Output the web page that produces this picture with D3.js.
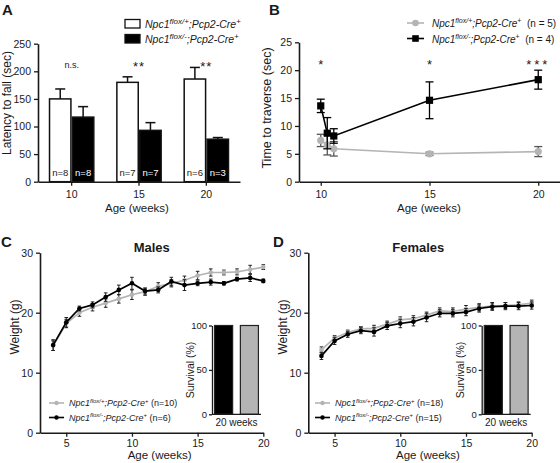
<!DOCTYPE html>
<html><head><meta charset="utf-8">
<script src="https://cdn.jsdelivr.net/npm/d3@7"></script>
<style>body{margin:0;background:#fff}svg{display:block}</style>
</head><body>
<script>
// ---------- DATA ----------
const ageA = [10, 15, 20];
const latencyCtrl = [150, 180, 186];
const latencyCtrlErr = [18, 10, 21];
const latencyMut = [117, 93, 77];
const latencyMutErr = [19, 14, 3];
const nCtrlA = ["n=8", "n=7", "n=6"];
const nMutA = ["n=8", "n=7", "n=3"];
const sigA = ["n.s.", "**", "**"];
const ticksA = [0, 50, 100, 150, 200, 250];

const ageB = [10, 10.3, 10.6, 15, 20];
const traverseCtrl = [7.4, 6.6, 5.9, 5.0, 5.4];
const traverseCtrlErr = [1.1, 1.8, 1.3, 0.3, 0.9];
const traverseMut = [13.6, 8.7, 8.2, 14.6, 18.3];
const traverseMutErr = [1.2, 2.8, 1.3, 3.3, 1.7];
const sigBAge = [10, 15, 20];
const sigB = ["*", "*", "***"];
const ticksBx = [10, 15, 20];
const ticksBy = [0, 5, 10, 15, 20, 25];

const weeks = [4,5,6,7,8,9,10,11,12,13,14,15,16,17,18,19,20];
const maleCtrl =    [14.5,18.2,20.0,20.9,21.6,22.3,23.0,23.5,24.4,24.9,25.4,26.2,26.7,26.7,26.8,27.2,27.6];
const maleCtrlErr = [0.8,0.7,0.6,0.6,0.7,0.7,0.8,0.6,0.6,0.6,0.7,0.7,0.6,0.4,0.5,0.7,0.4];
const maleMut =     [14.6,18.4,20.7,21.3,22.6,23.8,24.9,23.6,23.8,25.2,24.6,24.9,25.1,24.9,25.6,25.8,25.3];
const maleMutErr =  [0.9,0.8,0.4,0.5,0.7,0.8,1.0,0.5,0.5,0.7,0.9,0.4,0.5,0.3,0.3,0.6,0.3];
const femCtrl =     [13.8,15.8,16.7,17.3,17.4,18.1,18.8,19.0,19.6,20.3,20.2,20.6,20.9,21.1,21.2,21.3,21.6];
const femCtrlErr =  [0.5,0.4,0.4,0.4,0.5,0.5,0.5,0.5,0.5,0.5,0.6,0.6,0.6,0.6,0.5,0.5,0.5];
const femMut =      [12.8,15.3,16.4,17.0,16.8,17.8,18.2,18.5,19.2,19.9,19.9,20.1,20.7,21.0,21.1,21.1,21.2];
const femMutErr =   [0.6,0.6,0.5,0.5,0.7,0.6,0.7,0.7,0.7,0.6,0.6,0.6,0.6,0.6,0.6,0.6,0.6];
const ticksWx = [5, 10, 15, 20];
const ticksWy = [0, 10, 20, 30];
const survivalGroups = ["flox/-", "flox/+"];
const survivalVals = [100, 100];
const ticksSurv = [0, 50, 100];

// ---------- STYLE ----------
const FONT = "'Liberation Sans', Arial, Helvetica, sans-serif";
const GREY = "#b4b4b4";
const AX = "#1a1a1a";

const svg = d3.select("body").append("svg")
  .attr("width", 560).attr("height", 463)
  .style("font-family", FONT);

function styleAxis(g, fs) {
  g.select(".domain").attr("stroke", AX).attr("stroke-width", 1.6);
  g.selectAll(".tick line").attr("stroke", AX).attr("stroke-width", 1.3);
  g.selectAll(".tick text").attr("fill", "#1a1a1a").style("font-size", fs + "px").style("font-family", FONT);
}
function label(x, y, str, opts = {}) {
  const t = svg.append("text").attr("x", x).attr("y", y).text(str)
    .attr("fill", opts.fill || "#1a1a1a")
    .style("font-size", (opts.fs || 12) + "px")
    .attr("text-anchor", opts.anchor || "middle");
  if (opts.bold) t.style("font-weight", "bold");
  if (opts.rot) t.attr("transform", `rotate(-90,${x},${y})`);
  if (opts.ls) t.style("letter-spacing", opts.ls + "px");
  return t;
}
function geno(g, x, y, sup, fs, extra) {
  const t = g.append("text").attr("x", x).attr("y", y).attr("fill", "#1a1a1a")
    .style("font-size", fs + "px");
  const s = Math.round(fs * 0.72);
  t.append("tspan").text("Npc1").style("font-style", "italic");
  t.append("tspan").text(sup).attr("dy", -fs * 0.38).style("font-size", s + "px").style("font-style", "italic");
  t.append("tspan").text(";Pcp2-Cre").attr("dy", fs * 0.38).style("font-style", "italic");
  t.append("tspan").text("+").attr("dy", -fs * 0.38).style("font-size", s + "px");
  if (extra) t.append("tspan").text(extra).attr("dy", fs * 0.38);
  return t;
}

// Panel letters
label(2, 15, "A", {fs: 15, bold: true, anchor: "start"});
label(269, 15, "B", {fs: 15, bold: true, anchor: "start"});
label(1, 247, "C", {fs: 15, bold: true, anchor: "start"});
label(273, 247, "D", {fs: 15, bold: true, anchor: "start"});

// ---------- PANEL A ----------
(function () {
  const x = d3.scaleBand().domain(ageA).range([38, 240]);
  const y = d3.scaleLinear().domain([0, 250]).range([181.7, 43.7]);
  const g = svg.append("g");
  const bw = x.bandwidth() * 0.34;
  const cx = d => x(d) + x.bandwidth() / 2;
  const groups = [
    {vals: latencyCtrl, err: latencyCtrlErr, fill: "#fff", off: -bw, n: nCtrlA, tc: "#1a1a1a"},
    {vals: latencyMut, err: latencyMutErr, fill: "#000", off: 0, n: nMutA, tc: "#fff"}
  ];
  groups.forEach(gr => {
    ageA.forEach((a, i) => {
      const bx = cx(a) + gr.off;
      const mx = bx + bw / 2;
      g.append("line").attr("x1", mx).attr("x2", mx).attr("y1", y(gr.vals[i])).attr("y2", y(gr.vals[i] + gr.err[i]))
        .attr("stroke", "#111").attr("stroke-width", 1.5);
      g.append("line").attr("x1", mx - 5).attr("x2", mx + 5).attr("y1", y(gr.vals[i] + gr.err[i])).attr("y2", y(gr.vals[i] + gr.err[i]))
        .attr("stroke", "#111").attr("stroke-width", 1.5);
      g.append("rect").attr("x", bx + 0.75).attr("y", y(gr.vals[i])).attr("width", bw - 1.5)
        .attr("height", y(0) - y(gr.vals[i])).attr("fill", gr.fill).attr("stroke", "#111").attr("stroke-width", 1.5);
      g.append("text").attr("x", mx).attr("y", 175.5).attr("text-anchor", "middle")
        .attr("fill", gr.tc).style("font-size", "9.5px").text(gr.n[i]);
    });
  });
  ageA.forEach((a, i) => {
    const isNs = sigA[i] === "n.s.";
    label(cx(a), isNs ? 68 : 71, sigA[i], {fs: isNs ? 9 : 13, ls: isNs ? 0 : 1});
  });
  const ya = g.append("g").attr("transform", `translate(${x.range()[0]},0)`)
    .call(d3.axisLeft(y).tickValues(ticksA).tickSize(4).tickSizeOuter(0));
  styleAxis(ya, 10.5);
  const xa = g.append("g").attr("transform", `translate(0,${y(0)})`)
    .call(d3.axisBottom(x).tickSize(4).tickSizeOuter(0).tickPadding(5));
  styleAxis(xa, 10.5);
  label(11, 103, "Latency to fall (sec)", {fs: 12, rot: true});
  label(137, 212, "Age (weeks)", {fs: 11.5});
  const lg = svg.append("g");
  lg.append("rect").attr("x", 125).attr("y", 19.5).attr("width", 15).attr("height", 8.5)
    .attr("fill", "#fff").attr("stroke", "#111").attr("stroke-width", 1.3);
  lg.append("rect").attr("x", 125).attr("y", 34.5).attr("width", 15).attr("height", 8.5)
    .attr("fill", "#000").attr("stroke", "#111").attr("stroke-width", 1.3);
  geno(lg, 145, 28, "flox/+", 10.5);
  geno(lg, 145, 43, "flox/-", 10.5);
})();

// ---------- PANEL B ----------
(function () {
  const x = d3.scaleLinear().domain([9, 21]).range([299, 560]);
  const y = d3.scaleLinear().domain([0, 25]).range([181.7, 42.3]);
  const g = svg.append("g");
  const series = [
    {vals: traverseCtrl, err: traverseCtrlErr, color: GREY, shape: "circle"},
    {vals: traverseMut, err: traverseMutErr, color: "#000", shape: "square"}
  ];
  const line = d3.line().x(d => x(d[0])).y(d => y(d[1]));
  series.forEach(s => {
    const pts = ageB.map((a, i) => [a, s.vals[i], s.err[i]]);
    g.append("path").datum(pts).attr("d", line).attr("fill", "none").attr("stroke", s.color).attr("stroke-width", 1.6);
    pts.forEach(p => {
      const ec = s.shape === "circle" ? "#555" : "#000";
      g.append("line").attr("x1", x(p[0])).attr("x2", x(p[0])).attr("y1", y(p[1] - p[2])).attr("y2", y(p[1] + p[2]))
        .attr("stroke", ec).attr("stroke-width", 1.3);
      [p[1] - p[2], p[1] + p[2]].forEach(v => g.append("line").attr("x1", x(p[0]) - 4).attr("x2", x(p[0]) + 4)
        .attr("y1", y(v)).attr("y2", y(v)).attr("stroke", ec).attr("stroke-width", 1.3));
      if (s.shape === "circle") g.append("circle").attr("cx", x(p[0])).attr("cy", y(p[1])).attr("r", 3.6).attr("fill", s.color);
      else g.append("rect").attr("x", x(p[0]) - 3.6).attr("y", y(p[1]) - 3.6).attr("width", 7.2).attr("height", 7.2).attr("fill", s.color);
    });
  });
  sigBAge.forEach((a, i) => label(x(a), 69, sigB[i], {fs: 13, ls: sigB[i].length > 1 ? 3 : 0}));
  const ya = g.append("g").attr("transform", `translate(${x.range()[0]},0)`)
    .call(d3.axisLeft(y).tickValues(ticksBy).tickSize(4).tickSizeOuter(0));
  styleAxis(ya, 10.5);
  const xa = g.append("g").attr("transform", `translate(0,${y(0)})`)
    .call(d3.axisBottom(x).tickValues(ticksBx).tickSize(4).tickSizeOuter(0).tickPadding(5));
  styleAxis(xa, 10.5);
  label(271, 108, "Time to traverse (sec)", {fs: 12.5, rot: true});
  label(429, 212, "Age (weeks)", {fs: 11.5});
  const lg = svg.append("g");
  [[GREY, "circle", 23, "flox/+", "  (n = 5)"], ["#000", "square", 38.5, "flox/-", "  (n = 4)"]].forEach(r => {
    lg.append("line").attr("x1", 407).attr("x2", 424).attr("y1", r[2]).attr("y2", r[2]).attr("stroke", r[0]).attr("stroke-width", 1.6);
    if (r[1] === "circle") lg.append("circle").attr("cx", 415.5).attr("cy", r[2]).attr("r", 3.3).attr("fill", r[0]);
    else lg.append("rect").attr("x", 412.2).attr("y", r[2] - 3.3).attr("width", 6.6).attr("height", 6.6).attr("fill", r[0]);
    geno(lg, 432, r[2] + 4, r[3], 10, r[4]).attr("xml:space", "preserve");
  });
})();

// ---------- PANELS C & D ----------
function weightPanel(o) {
  const x = d3.scaleLinear().domain([3, 20]).range([o.x0, o.x1]);
  const y = d3.scaleLinear().domain([0, 30]).range([432.7, 252.7]);
  const g = svg.append("g");
  const line = d3.line().x(d => x(d[0])).y(d => y(d[1]));
  o.series.forEach(s => {
    const pts = weeks.map((w, i) => [w, s.vals[i], s.err[i]]);
    pts.forEach(p => {
      g.append("line").attr("x1", x(p[0])).attr("x2", x(p[0])).attr("y1", y(p[1] - p[2])).attr("y2", y(p[1] + p[2]))
        .attr("stroke", "#222").attr("stroke-width", 1);
      [p[1] - p[2], p[1] + p[2]].forEach(v => g.append("line").attr("x1", x(p[0]) - 1.8).attr("x2", x(p[0]) + 1.8)
        .attr("y1", y(v)).attr("y2", y(v)).attr("stroke", "#222").attr("stroke-width", 1));
    });
    g.append("path").datum(pts).attr("d", line).attr("fill", "none").attr("stroke", s.color).attr("stroke-width", 1.7);
    pts.forEach(p => g.append("circle").attr("cx", x(p[0])).attr("cy", y(p[1])).attr("r", 2.3).attr("fill", s.color));
  });
  const ya = g.append("g").attr("transform", `translate(${o.x0},0)`)
    .call(d3.axisLeft(y).tickValues(ticksWy).tickSize(4).tickSizeOuter(0));
  styleAxis(ya, 10.5);
  const xa = g.append("g").attr("transform", `translate(0,${y(0)})`)
    .call(d3.axisBottom(x).tickValues(ticksWx).tickSize(4).tickSizeOuter(0).tickPadding(3));
  styleAxis(xa, 10.5);
  label(o.x0 - 21, 327, "Weight (g)", {fs: 12, rot: true});
  label((o.x0 + o.x1) / 2 + 8, 459, "Age (weeks)", {fs: 11.5});
  label(o.titleX, 252, o.title, {fs: 13, bold: true});
  const ix = d3.scaleBand().domain(survivalGroups).range([o.ix0, o.ix0 + 49]).paddingInner(0.3).paddingOuter(0.1);
  const iy = d3.scaleLinear().domain([0, 100]).range([414.3, 325.5]);
  survivalGroups.forEach((k, i) => {
    g.append("rect").attr("x", ix(k)).attr("y", iy(survivalVals[i])).attr("width", ix.bandwidth())
      .attr("height", iy(0) - iy(survivalVals[i])).attr("fill", i === 0 ? "#000" : GREY)
      .attr("stroke", "#222").attr("stroke-width", 1.2);
  });
  const iya = g.append("g").attr("transform", `translate(${o.ix0},0)`)
    .call(d3.axisLeft(iy).tickValues(ticksSurv).tickSize(3).tickSizeOuter(0).tickPadding(2));
  styleAxis(iya, 9.5);
  iya.select(".domain").attr("stroke-width", 1.3);
  g.append("line").attr("x1", o.ix0).attr("x2", o.ix0 + 49).attr("y1", iy(0)).attr("y2", iy(0)).attr("stroke", AX).attr("stroke-width", 1.3);
  label(o.ix0 + 24.5, 425.5, "20 weeks", {fs: 10});
  label(o.ix0 - 18, 370, "Survival (%)", {fs: 10.5, rot: true});
  const lg = svg.append("g");
  o.series.forEach((s, i) => {
    const ly = 403 + i * 14.5;
    lg.append("line").attr("x1", o.lx).attr("x2", o.lx + 15).attr("y1", ly).attr("y2", ly).attr("stroke", s.color).attr("stroke-width", 1.6);
    lg.append("circle").attr("cx", o.lx + 7.5).attr("cy", ly).attr("r", 2.2).attr("fill", s.color);
    geno(lg, o.lx + 20, ly + 3.2, s.sup, 9, " " + s.n);
  });
}
weightPanel({
  x0: 40, x1: 263.3, ix0: 212, titleX: 151.7, title: "Males", lx: 49,
  series: [
    {vals: maleCtrl, err: maleCtrlErr, color: GREY, sup: "flox/+", n: "(n=10)"},
    {vals: maleMut, err: maleMutErr, color: "#000", sup: "flox/-", n: "(n=6)"}
  ]
});
weightPanel({
  x0: 308.3, x1: 531.7, ix0: 481.7, titleX: 418.3, title: "Females", lx: 315,
  series: [
    {vals: femCtrl, err: femCtrlErr, color: GREY, sup: "flox/+", n: "(n=18)"},
    {vals: femMut, err: femMutErr, color: "#000", sup: "flox/-", n: "(n=15)"}
  ]
});
</script>
</body></html>
